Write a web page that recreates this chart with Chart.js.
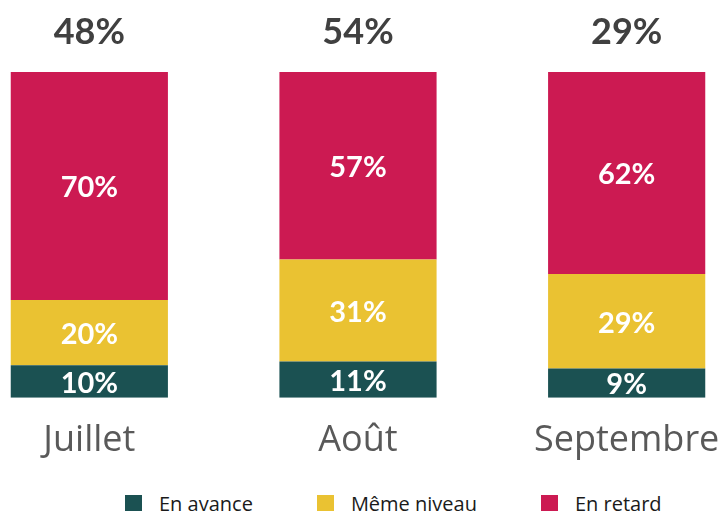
<!DOCTYPE html>
<html>
<head>
<meta charset="utf-8">
<script src="https://cdn.jsdelivr.net/npm/chart.js@4"></script>
<style>
    html, body { margin: 0; padding: 0; background: #fff; overflow: hidden; width: 723px; height: 511px; }
    #wrap { position: absolute; left: -45px; top: 0; width: 806px; height: 483px; }
    #legend { position: absolute; left: 125px; top: 490px; display: flex; gap: 64px; font: 20px "Open Sans", sans-serif; color: #1a1a1a; }
    #legend .item { display: flex; align-items: center; white-space: nowrap; }
    #legend .box { width: 17px; height: 17px; margin-right: 17px; }
</style>
</head>
<body>
<div id="wrap"><canvas id="monthChart"></canvas></div>
<div id="legend"></div>
<script>
var categories = ['Juillet', 'Août', 'Septembre'];
var enAvance = [10, 11, 9];
var memeNiveau = [20, 31, 29];
var enRetard = [70, 57, 62];
var totals = [48, 54, 29];

var seriesNames = ['En avance', 'Même niveau', 'En retard'];
var seriesColors = ['#1b5152', '#eac232', '#cc1a52'];
var seriesValues = [enAvance, memeNiveau, enRetard];

// 100% stacked: each column is scaled to its own sum
var toShare = function (values) {
    return values.map(function (v, i) {
        return v / (enAvance[i] + memeNiveau[i] + enRetard[i]) * 100;
    });
};

var datasets = seriesNames.map(function (name, k) {
    return {
        label: name,
        data: toShare(seriesValues[k]),
        rawValues: seriesValues[k],
        backgroundColor: seriesColors[k],
        borderWidth: 0,
        categoryPercentage: 1,
        barPercentage: 0.585
    };
});

var labelPlugin = {
    id: 'labelPlugin',
    afterDatasetsDraw: function (chart) {
        var ctx = chart.ctx;
        ctx.save();
        ctx.textAlign = 'center';
        ctx.textBaseline = 'middle';
        ctx.fillStyle = '#ffffff';
        ctx.font = 'bold 29px Lato, sans-serif';
        chart.data.datasets.forEach(function (ds, k) {
            chart.getDatasetMeta(k).data.forEach(function (bar, i) {
                var p = bar.getCenterPoint();
                ctx.fillText(ds.rawValues[i] + '%', p.x, p.y + 2);
            });
        });
        ctx.fillStyle = '#404040';
        ctx.font = 'bold 36px Lato, sans-serif';
        var top = chart.getDatasetMeta(0).data;
        totals.forEach(function (t, i) {
            ctx.fillText(t + '%', top[i].x, chart.chartArea.top - 40);
        });
        ctx.restore();
    }
};

var monthChart = new Chart(document.getElementById('monthChart'), {
    type: 'bar',
    data: { labels: categories, datasets: datasets },
    plugins: [labelPlugin],
    options: {
        responsive: true,
        maintainAspectRatio: false,
        animation: false,
        layout: { padding: { top: 72, left: 0, right: 0, bottom: 0 } },
        plugins: { legend: { display: false }, tooltip: { enabled: false } },
        scales: {
            x: {
                stacked: true,
                grid: { display: false, drawTicks: false },
                border: { display: false },
                ticks: { padding: 21, color: '#595959', font: { family: 'Open Sans', size: 36 } }
            },
            y: { stacked: true, display: false, min: 0, max: 100 }
        }
    }
});

var legend = document.getElementById('legend');
seriesNames.forEach(function (name, k) {
    var item = document.createElement('div');
    item.className = 'item';
    item.innerHTML = '<span class="box" style="background:' + seriesColors[k] + '"></span>' + name;
    legend.appendChild(item);
});
</script>
</body>
</html>
